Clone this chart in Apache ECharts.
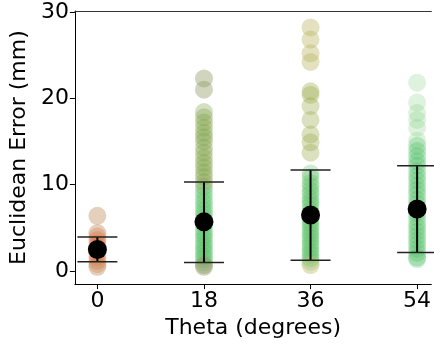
<!DOCTYPE html>
<html>
<head>
<meta charset="utf-8">
<script src="https://cdn.jsdelivr.net/npm/echarts@6/dist/echarts.min.js"></script>
<style>
  html, body { margin: 0; padding: 0; background: #fff; }
  #chart { width: 434px; height: 344px; }
</style>
</head>
<body>
<div id="chart"></div>
<script>
// theta categories (degrees)
const thetaValues = [0, 18, 36, 54];

// euclidean error of each trial (mm), one list per theta
const errTheta0 = [6.4, 4.4, 4.0, 3.6, 3.2, 2.8, 2.4, 2.0, 1.6, 1.2, 0.8, 0.5];
const errTheta18 = [22.3, 21.0, 18.4, 17.8, 17.2, 16.6, 16.0, 15.5, 15.0, 14.3, 13.7, 13.1,
  12.5, 12.0, 11.4, 10.9, 10.3, 9.8, 9.3, 8.8, 8.3, 7.9, 7.4, 7.0, 6.6, 6.2, 5.8, 5.4,
  5.0, 4.6, 4.2, 3.9, 3.5, 3.1, 2.8, 2.4, 2.1, 1.7, 1.4, 1.0, 0.7, 0.5];
const errTheta36 = [28.2, 26.8, 25.2, 24.2, 20.8, 20.4, 19.1, 17.5, 15.8, 14.9, 13.7, 11.3,
  10.8, 10.2, 9.8, 9.3, 8.9, 8.4, 8.0, 7.6, 7.1, 6.7, 6.3, 5.9, 5.5, 5.1, 4.7, 4.3, 3.9,
  3.5, 3.1, 2.7, 2.3, 1.9, 1.5, 1.1, 0.7];
const errTheta54 = [21.8, 19.5, 18.3, 17.5, 16.6, 15.1, 14.5, 13.9, 13.3, 12.7, 12.2, 11.6,
  11.0, 10.5, 9.9, 9.4, 8.9, 8.3, 7.8, 7.2, 6.7, 6.2, 5.6, 5.1, 4.6, 4.1, 3.6, 3.1, 2.6,
  2.1, 1.6, 1.4];

// summary per theta
const meanErr = [2.5, 5.7, 6.5, 7.2];
const lowerErr = [1.1, 1.0, 1.25, 2.15];
const upperErr = [3.95, 10.3, 11.7, 12.2];

// y tick labels / x tick labels
const yTicks = [0, 10, 20, 30];
const xTicks = thetaValues;

const FONT = "DejaVu Sans";

// colour of each dot depends on column and value
function dotColor(theta, v) {
  if (theta === 0) {
    if (v > 4.2 || v < 0.7) return "rgba(180,125,70,0.45)";
    return "rgba(215,105,55,0.35)";
  }
  if (theta === 18) {
    if (v >= 20 || v < 0.8) return "rgba(140,150,95,0.5)";
    if (v >= 9.5) return "rgba(120,160,65,0.4)";
    return "rgba(75,190,95,0.35)";
  }
  if (theta === 36) {
    if (v >= 23 || v < 1) return "rgba(185,180,95,0.5)";
    if (v >= 12) return "rgba(155,170,75,0.45)";
    return "rgba(80,185,90,0.35)";
  }
  if (v >= 15) return "rgba(120,200,120,0.3)";
  return "rgba(70,185,90,0.35)";
}

const columns = [errTheta0, errTheta18, errTheta36, errTheta54];

const dotSeries = columns.map((vals, i) => ({
  type: "scatter",
  symbolSize: 18,
  z: 2,
  silent: true,
  data: vals.map(v => ({
    value: [thetaValues[i], v],
    itemStyle: { color: dotColor(thetaValues[i], v) }
  }))
}));

const chart = echarts.init(document.getElementById("chart"));

chart.setOption({
  animation: false,
  grid: { left: 72, top: 11, right: -2, bottom: 58, containLabel: false },
  xAxis: [
    {
      type: "value",
      min: -3.8,
      max: 56.4,
      name: "Theta (degrees)",
      nameLocation: "middle",
      nameGap: 30,
      nameTextStyle: { fontFamily: FONT, fontSize: 22, color: "#000" },
      axisLine: { show: true, onZero: false, lineStyle: { color: "#000", width: 1 } },
      axisTick: { show: true, length: 5, customValues: xTicks, lineStyle: { color: "#000" } },
      axisLabel: { customValues: xTicks, fontFamily: FONT, fontSize: 22, color: "#000", margin: 6 },
      splitLine: { show: false }
    },
    {
      type: "value",
      position: "top",
      min: -3.8,
      max: 56.4,
      axisLine: { show: true, onZero: false, lineStyle: { color: "#333", width: 1 } },
      axisTick: { show: false },
      axisLabel: { show: false },
      splitLine: { show: false }
    }
  ],
  yAxis: {
    type: "value",
    min: -1.5,
    max: 30.1,
    name: "Euclidean Error (mm)",
    nameLocation: "middle",
    nameGap: 41,
    nameTextStyle: { fontFamily: FONT, fontSize: 22, color: "#000" },
    axisLine: { show: true, onZero: false, lineStyle: { color: "#000", width: 1 } },
    axisTick: { show: true, length: 5, customValues: yTicks, lineStyle: { color: "#000" } },
    axisLabel: { customValues: yTicks, fontFamily: FONT, fontSize: 22, color: "#000", margin: 6 },
    splitLine: { show: false }
  },
  series: [
    ...dotSeries,
    {
      type: "custom",
      z: 3,
      silent: true,
      data: thetaValues.map((t, i) => [t, lowerErr[i], upperErr[i]]),
      renderItem: (params, api) => {
        const lo = api.coord([api.value(0), api.value(1)]);
        const hi = api.coord([api.value(0), api.value(2)]);
        const cap = 20;
        return {
          type: "group",
          children: [
            { type: "line", shape: { x1: lo[0], y1: lo[1], x2: hi[0], y2: hi[1] },
              style: { stroke: "#000", lineWidth: 2 } },
            { type: "line", shape: { x1: lo[0] - cap, y1: lo[1], x2: lo[0] + cap, y2: lo[1] },
              style: { stroke: "#222", lineWidth: 1.5 } },
            { type: "line", shape: { x1: hi[0] - cap, y1: hi[1], x2: hi[0] + cap, y2: hi[1] },
              style: { stroke: "#222", lineWidth: 1.5 } }
          ]
        };
      }
    },
    {
      type: "scatter",
      symbolSize: 19,
      z: 4,
      silent: true,
      itemStyle: { color: "#000", opacity: 1 },
      data: thetaValues.map((t, i) => [t, meanErr[i]])
    }
  ]
});
</script>
</body>
</html>
